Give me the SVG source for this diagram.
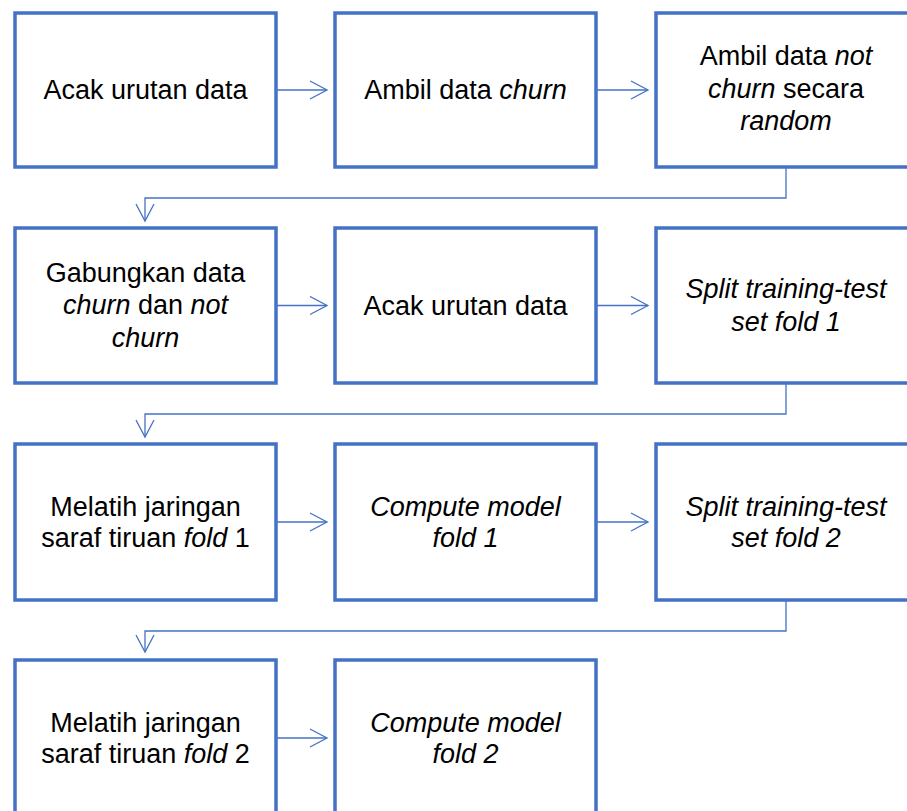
<svg xmlns="http://www.w3.org/2000/svg" width="907" height="811" viewBox="0 0 907 811">
<defs>
<style>
.box{fill:#fff;stroke:#4472C4;stroke-width:3.5}
.t{font-family:"Liberation Sans",Arial,sans-serif;font-size:27px;fill:#000;text-anchor:middle}
.i{font-style:italic}
.c{fill:none;stroke:#4472C4;stroke-width:1.3}
</style>
<marker id="ah" viewBox="0 0 20 20" refX="18" refY="10" markerWidth="20" markerHeight="20" markerUnits="userSpaceOnUse" orient="auto">
<path d="M1,1 L18,10 L1,19" fill="none" stroke="#4472C4" stroke-width="1.3"/>
</marker>
</defs>
<rect width="907" height="811" fill="#fff"/>
<g id="connectors">
<path class="c" d="M276,90 H327" marker-end="url(#ah)"/>
<path class="c" d="M596,90 H648" marker-end="url(#ah)"/>
<path class="c" d="M786,167 V198 H145 V221" marker-end="url(#ah)"/>
<path class="c" d="M276,305.5 H327" marker-end="url(#ah)"/>
<path class="c" d="M596,305.5 H648" marker-end="url(#ah)"/>
<path class="c" d="M786,383 V414 H145 V437" marker-end="url(#ah)"/>
<path class="c" d="M276,522 H327" marker-end="url(#ah)"/>
<path class="c" d="M596,522 H648" marker-end="url(#ah)"/>
<path class="c" d="M786,600 V631 H145 V652" marker-end="url(#ah)"/>
<path class="c" d="M276,738 H327" marker-end="url(#ah)"/>
</g>
<g id="n1"><rect class="box" x="15" y="13" width="261" height="154"/><text class="t" x="145.5" y="99">Acak urutan data</text></g>
<g id="n2"><rect class="box" x="335" y="13" width="261" height="154"/><text class="t" x="465.5" y="99">Ambil data <tspan class="i">churn</tspan></text></g>
<g id="n3"><rect class="box" x="656" y="13" width="261" height="154"/><text class="t" x="786" y="65">Ambil data <tspan class="i">not</tspan></text><text class="t" x="786" y="98"><tspan class="i">churn</tspan> secara</text><text class="t i" x="786" y="130">random</text></g>
<g id="n4"><rect class="box" x="15" y="228" width="261" height="155"/><text class="t" x="145.5" y="281.5">Gabungkan data</text><text class="t" x="145.5" y="314"><tspan class="i">churn</tspan> dan <tspan class="i">not</tspan></text><text class="t i" x="145.5" y="346.5">churn</text></g>
<g id="n5"><rect class="box" x="335" y="228" width="261" height="155"/><text class="t" x="465.5" y="314.5">Acak urutan data</text></g>
<g id="n6"><rect class="box" x="656" y="228" width="261" height="155"/><text class="t i" x="786" y="298">Split training-test</text><text class="t i" x="786" y="330.5">set fold 1</text></g>
<g id="n7"><rect class="box" x="15" y="444" width="261" height="156"/><text class="t" x="145.5" y="515.5">Melatih jaringan</text><text class="t" x="145.5" y="547">saraf tiruan <tspan class="i">fold</tspan> 1</text></g>
<g id="n8"><rect class="box" x="335" y="444" width="261" height="156"/><text class="t i" x="465.5" y="515.5">Compute model</text><text class="t i" x="465.5" y="547">fold 1</text></g>
<g id="n9"><rect class="box" x="656" y="444" width="261" height="156"/><text class="t i" x="786" y="515.5">Split training-test</text><text class="t i" x="786" y="547">set fold 2</text></g>
<g id="n10"><rect class="box" x="15" y="660" width="261" height="156"/><text class="t" x="145.5" y="731.5">Melatih jaringan</text><text class="t" x="145.5" y="763">saraf tiruan <tspan class="i">fold</tspan> 2</text></g>
<g id="n11"><rect class="box" x="335" y="660" width="261" height="156"/><text class="t i" x="465.5" y="731.5">Compute model</text><text class="t i" x="465.5" y="763">fold 2</text></g>
</svg>
